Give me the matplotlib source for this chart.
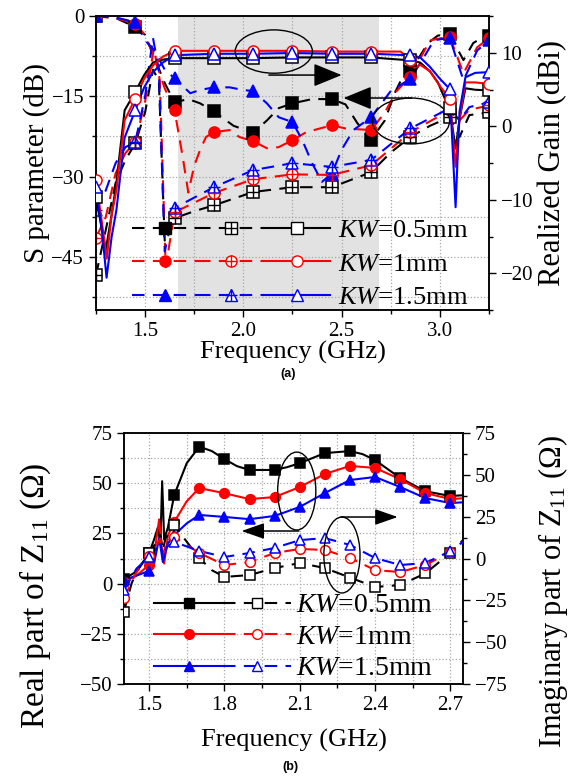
import numpy as np
import matplotlib
matplotlib.use("Agg")
import matplotlib.pyplot as plt
from matplotlib.lines import Line2D
from matplotlib.patches import Ellipse
from matplotlib.legend_handler import HandlerTuple
from matplotlib.ticker import MultipleLocator

plt.rcParams['font.family'] = ['Liberation Serif', 'DejaVu Serif']
plt.rcParams['mathtext.fontset'] = 'custom'
plt.rcParams['mathtext.rm'] = 'Liberation Serif'
plt.rcParams['mathtext.it'] = 'Liberation Serif:italic'

labels = [r'$KW$=0.5mm', r'$KW$=1mm', r'$KW$=1.5mm']
colors = ['black', 'red', 'blue']
markers = ['s', 'o', '^']

# ---------------- (a) S parameter / realized gain ----------------
f_mk = [1.25, 1.45, 1.65, 1.85, 2.05, 2.25, 2.45, 2.65, 2.85, 3.05, 3.25]

# S11 (dashed, filled markers, left axis)
s11_mk = [
    [0, -2.0, -16.1, -17.8, -21.8, -16.3, -15.5, -23.1, -10.3, -3.4, -3.6],
    [0, -1.4, -17.6, -21.7, -23.4, -23.2, -20.4, -21.3, -11.3, -3.8, -4.1],
    [0, -1.1, -11.6, -13.3, -14.0, -19.8, -29.5, -18.9, -11.7, -4.0, -4.5],
]
s11_fx = [
    [1.25, 1.35, 1.45, 1.5, 1.55, 1.6, 1.65, 1.72, 1.78, 1.85, 1.95, 2.05, 2.12, 2.18, 2.25,
     2.35, 2.45, 2.52, 2.58, 2.65, 2.72, 2.77, 2.81, 2.85, 2.94, 2.99, 3.05, 3.12, 3.17, 3.22, 3.25],
    [1.25, 1.35, 1.45, 1.5, 1.55, 1.6, 1.65, 1.69, 1.72, 1.75, 1.78, 1.81, 1.85, 1.93, 1.98, 2.05,
     2.12, 2.18, 2.25, 2.32, 2.45, 2.52, 2.65, 2.72, 2.78, 2.85, 2.95, 3.05, 3.12, 3.19, 3.25],
    [1.25, 1.35, 1.45, 1.5, 1.55, 1.6, 1.65, 1.73, 1.78, 1.85, 1.93, 2.0, 2.05, 2.12, 2.18, 2.25,
     2.3, 2.35, 2.4, 2.45, 2.5, 2.56, 2.65, 2.75, 2.85, 2.91, 2.97, 3.05, 3.12, 3.19, 3.25],
]
s11_fy = [
    [0, -0.3, -2.0, -3.5, -8, -12.5, -16.1, -15.5, -16.3, -17.8, -20.5, -21.8, -19.5, -17.2, -16.3,
     -15.5, -15.5, -16.5, -20, -23.1, -19.5, -14.4, -11.4, -10.3, -5, -3.6, -3.4, -8.2, -5, -3.9, -3.6],
    [0, -0.3, -1.4, -3.5, -8, -13.5, -17.6, -26, -33, -28, -25, -22.6, -21.7, -21.3, -22.6, -23.4,
     -24.7, -24.5, -23.2, -21.7, -20.4, -21, -21.3, -18, -14, -11.3, -4.5, -3.8, -10.7, -5.8, -4.1],
    [0, -0.2, -1.1, -4.5, -6.5, -10, -11.6, -14.4, -13.8, -13.3, -13.3, -13.8, -14.0, -16.3, -18.9, -19.8,
     -23.2, -27.5, -31, -29.5, -25, -21.3, -18.9, -14, -11.7, -8.2, -4.5, -4.0, -12, -6.4, -4.5],
]

# second S parameter (dashed, crossed markers, left axis)
sx_mk = [
    [-48.5, -23.8, -37.8, -35.4, -32.9, -32.0, -32.0, -29.2, -22.6, -18.9, -18.0],
    [-41.5, -23.6, -36.7, -33.1, -30.5, -29.6, -29.7, -27.9, -21.7, -17.6, -16.7],
    [-36.3, -23.6, -35.9, -32.0, -28.8, -27.5, -28.2, -26.9, -21.0, -17.2, -16.1],
]
sx_fx = [
    [1.25, 1.3, 1.35, 1.4, 1.45, 1.5, 1.54, 1.57, 1.6, 1.65, 1.75, 1.85, 2.05, 2.25, 2.45, 2.65,
     2.75, 2.85, 2.95, 3.05, 3.1, 3.15, 3.25],
    [1.25, 1.3, 1.35, 1.4, 1.45, 1.5, 1.545, 1.575, 1.605, 1.65, 1.85, 2.05, 2.25, 2.45, 2.65,
     2.85, 3.05, 3.1, 3.15, 3.25],
    [1.25, 1.3, 1.35, 1.4, 1.45, 1.5, 1.54, 1.57, 1.6, 1.65, 1.85, 2.05, 2.25, 2.45, 2.65,
     2.85, 3.05, 3.1, 3.15, 3.25],
]
sx_fy = [
    [-48.5, -40, -31.2, -26.9, -23.8, -18, -10, -12, -42, -37.8, -36.5, -35.4, -32.9, -32.0, -32.0, -29.2,
     -25.5, -22.6, -20.5, -18.9, -22.6, -18.5, -18.0],
    [-41.5, -37.6, -29.4, -25.6, -23.6, -16, -6, -12, -47, -36.7, -33.1, -30.5, -29.6, -29.7, -27.9,
     -21.7, -17.6, -19.5, -17.5, -16.7],
    [-36.3, -32.6, -27.5, -24.5, -23.6, -15, -4, -10, -44, -35.9, -32.0, -28.8, -27.5, -28.2, -26.9,
     -21.0, -17.2, -19.5, -17.0, -16.1],
]

# realized gain (solid, open markers, right axis)
g_mk = [
    [-9.6, 4.7, 9.3, 9.3, 9.3, 9.4, 9.4, 9.4, 9.0, 2.5, 4.9],
    [-7.3, 3.8, 10.3, 10.3, 10.3, 10.3, 10.2, 10.2, 9.0, 3.8, 5.8],
    [-8.3, 2.2, 9.7, 9.9, 9.9, 10.0, 9.9, 9.9, 9.7, 5.1, 7.4],
]
g_fx = [
    [1.25, 1.28, 1.3, 1.33, 1.354, 1.396, 1.45, 1.495, 1.54, 1.59, 1.65, 1.85, 2.05, 2.25, 2.45, 2.65,
     2.85, 2.9, 2.95, 2.99, 3.03, 3.05, 3.08, 3.1, 3.13, 3.18, 3.25],
    [1.25, 1.28, 1.305, 1.33, 1.354, 1.396, 1.45, 1.495, 1.54, 1.59, 1.65, 1.85, 2.05, 2.25, 2.45, 2.65,
     2.8, 2.85, 2.87, 2.9, 2.95, 3.0, 3.05, 3.08, 3.1, 3.13, 3.18, 3.25],
    [1.25, 1.28, 1.304, 1.33, 1.354, 1.396, 1.45, 1.495, 1.54, 1.59, 1.65, 1.85, 2.05, 2.25, 2.45, 2.65,
     2.85, 2.9, 2.95, 3.0, 3.05, 3.08, 3.1, 3.13, 3.18, 3.25],
]
g_fy = [
    [-9.6, -14, -16.8, -12, -7.7, 2.2, 4.7, 7.0, 8.7, 9.1, 9.3, 9.3, 9.3, 9.4, 9.4, 9.4,
     9.0, 8.7, 7.5, 6.0, 3.5, 2.5, -3, 1, 5.2, 5.0, 4.9],
    [-7.3, -13, -18, -12, -8.7, 0.85, 3.8, 6.5, 8.3, 9.5, 10.3, 10.3, 10.3, 10.3, 10.2, 10.2,
     10.2, 9.0, 8.0, 8.4, 7.5, 5.5, 3.8, -5.5, 1, 6, 6, 5.8],
    [-8.3, -14, -20.6, -15, -11.4, -1.5, 2.2, 5.3, 7.4, 8.7, 9.7, 9.9, 9.9, 10.0, 9.9, 9.9,
     9.7, 9.4, 8.1, 6.5, 5.1, -11, 2, 6.7, 7.3, 7.4],
]

# ---------------- (b) input impedance ----------------
f2_mk = [1.4, 1.5, 1.6, 1.7, 1.8, 1.9, 2.0, 2.1, 2.2, 2.3, 2.4, 2.5, 2.6, 2.7]
re_mk = [
    [2.3, 15.2, 44.1, 68.2, 62.0, 56.6, 56.6, 60.0, 65.0, 66.0, 61.5, 52.6, 46.0, 43.6],
    [1.0, 9.3, 30.7, 47.6, 45.0, 42.1, 43.1, 48.1, 54.6, 58.6, 57.6, 52.0, 45.1, 42.1],
    [1.8, 6.3, 24.2, 34.2, 33.2, 32.1, 33.7, 38.2, 45.1, 51.6, 53.1, 48.1, 42.6, 40.1],
]
im_mk = [
    [-31.8, 3.1, 20.0, 0.3, -11.0, -9.9, -5.7, -2.7, -5.7, -11.4, -17.0, -15.9, -8.9, 3.3],
    [-23.6, 1.5, 12.8, 3.3, -3.9, -2.1, 3.3, 5.7, 5.1, 0.3, -6.9, -8.1, -3.9, 3.9],
    [-18.8, 0.9, 9.9, 4.5, 0.9, 3.3, 6.3, 11.0, 12.2, 8.1, 0.3, -3.9, -2.7, 4.5],
]
re_fx = [
    [1.4, 1.45, 1.5, 1.52, 1.535, 1.545, 1.552, 1.56, 1.575, 1.6, 1.65, 1.7, 1.75, 1.8, 1.85, 1.9,
     2.0, 2.05, 2.1, 2.2, 2.3, 2.35, 2.4, 2.5, 2.6, 2.7, 2.75],
    [1.4, 1.45, 1.5, 1.52, 1.54, 1.55, 1.56, 1.575, 1.6, 1.65, 1.7, 1.8, 1.9, 2.0, 2.1, 2.2,
     2.3, 2.4, 2.5, 2.6, 2.7, 2.75],
    [1.4, 1.45, 1.5, 1.52, 1.54, 1.555, 1.575, 1.6, 1.65, 1.7, 1.8, 1.9, 2.0, 2.1, 2.2,
     2.3, 2.4, 2.5, 2.6, 2.7, 2.75],
]
re_fy = [
    [2.3, 6, 15.2, 22, 28, 20, 51, 22, 28, 44.1, 60, 68.2, 66, 62.0, 58.5, 56.6,
     56.6, 58, 60.0, 65.0, 66.0, 64.5, 61.5, 52.6, 46.0, 43.6, 44],
    [1.0, 4, 9.3, 14, 32, 18, 10, 24, 30.7, 41, 47.6, 45.0, 42.1, 43.1, 48.1, 54.6,
     58.6, 57.6, 52.0, 45.1, 42.1, 42.5],
    [1.8, 4, 6.3, 10, 22.7, 10.7, 20, 24.2, 30, 34.2, 33.2, 32.1, 33.7, 38.2, 45.1,
     51.6, 53.1, 48.1, 42.6, 40.1, 40.5],
]
im_fx = [
    [1.4, 1.43, 1.45, 1.5, 1.53, 1.545, 1.555, 1.565, 1.6, 1.65, 1.7, 1.75, 1.8, 1.9, 2.0, 2.1,
     2.2, 2.3, 2.4, 2.5, 2.6, 2.7, 2.75],
    [1.4, 1.45, 1.5, 1.53, 1.545, 1.555, 1.57, 1.6, 1.7, 1.8, 1.9, 2.0, 2.1, 2.2, 2.3, 2.4,
     2.5, 2.6, 2.7, 2.75],
    [1.4, 1.45, 1.5, 1.53, 1.545, 1.555, 1.57, 1.6, 1.7, 1.8, 1.9, 2.0, 2.1, 2.2, 2.3, 2.4,
     2.5, 2.6, 2.7, 2.75],
]
im_fy = [
    [-31.8, -15, -8, 3.1, 10, 14, 5, 12, 20.0, 10, 0.3, -7, -11.0, -9.9, -5.7, -2.7,
     -5.7, -11.4, -17.0, -15.9, -8.9, 3.3, 11],
    [-23.6, -8, 1.5, 8, 12, 2, 10, 12.8, 3.3, -3.9, -2.1, 3.3, 5.7, 5.1, 0.3, -6.9,
     -8.1, -3.9, 3.9, 10],
    [-18.8, -6, 0.9, 6, 10, 1, 7, 9.9, 4.5, 0.9, 3.3, 6.3, 11.0, 12.2, 8.1, 0.3,
     -3.9, -2.7, 4.5, 10],
]

DASH = (0, (6, 4))


def draw(ax, xl, yl, xm, ym, c, ls, m, fill, cross=False, ms=8, z=3):
    ax.plot(xl, yl, color=c, ls=ls, lw=1.5, zorder=z)
    ax.plot(xm, ym, ls='none', marker=m, ms=ms, mfc=c if fill else 'white',
            mec=c, mew=1.1, zorder=z + 0.1)
    if cross:
        ax.plot(xm, ym, ls='none', marker='+', ms=ms, color=c, mew=1.0, zorder=z + 0.2)


def style(ax):
    ax.tick_params(which='both', direction='out', colors='black')
    ax.tick_params(which='major', length=5, width=1)
    ax.tick_params(which='minor', length=3, width=1)
    for s in ax.spines.values():
        s.set_linewidth(1.1)


fig = plt.figure(figsize=(5.78, 7.77), dpi=100)

# ---- panel (a)
ax = fig.add_axes([0.166, 0.601, 0.680, 0.378])
ax2 = ax.twinx()
ax.axvspan(1.67, 2.69, color='#e2e2e2', zorder=0.5, lw=0)
for i in range(3):
    draw(ax, s11_fx[i], s11_fy[i], f_mk, s11_mk[i], colors[i], DASH, markers[i], True)
    draw(ax, sx_fx[i], sx_fy[i], f_mk, sx_mk[i], colors[i], DASH, markers[i], False, cross=True)
    draw(ax2, g_fx[i], g_fy[i], f_mk, g_mk[i], colors[i], '-', markers[i], False)

ax.set_xlim(1.25, 3.25)
ax.set_ylim(-55, 0)
ax2.set_ylim(-25, 15)
ax.xaxis.set_major_locator(MultipleLocator(0.5))
ax.xaxis.set_minor_locator(MultipleLocator(0.25))
ax.yaxis.set_major_locator(MultipleLocator(15))
ax.yaxis.set_minor_locator(MultipleLocator(7.5))
ax2.yaxis.set_major_locator(MultipleLocator(10))
ax2.yaxis.set_minor_locator(MultipleLocator(5))
ax.xaxis.set_major_formatter(plt.FuncFormatter(lambda v, p: f'{v:.1f}'))
ax.grid(which='both', ls=':', color='#a8a8a8', lw=0.9)
style(ax)
style(ax2)
ax.tick_params(labelsize=15)
ax2.tick_params(labelsize=15)
ax.set_xlabel('Frequency (GHz)', fontsize=19)
ax.set_ylabel('S parameter (dB)', fontsize=21)
ax2.set_ylabel('Realized Gain (dBi)', fontsize=22)
ax.xaxis.set_label_coords(0.5, -0.105)
ax.yaxis.set_label_coords(-0.118, 0.5)
ax2.yaxis.set_label_coords(1.125, 0.5)

ax2.add_patch(Ellipse((2.155, 10.2), 0.393, 5.9, fill=False, ec='black', lw=1, zorder=6))
ax2.annotate('', xy=(2.50, 7.0), xytext=(2.13, 7.0),
             arrowprops=dict(arrowstyle='-|>,head_length=1.1,head_width=0.45',
                             color='black', lw=1.1, mutation_scale=16, shrinkA=0, shrinkB=0))
ax.add_patch(Ellipse((2.853, -19.6), 0.393, 8.6, fill=False, ec='black', lw=1, zorder=6))
ax.annotate('', xy=(2.51, -15.3), xytext=(2.856, -15.3),
            arrowprops=dict(arrowstyle='-|>,head_length=1.1,head_width=0.45',
                            color='black', lw=1.1, mutation_scale=16, shrinkA=0, shrinkB=0))

handles, hmap = [], {}
for c, m in zip(colors, markers):
    h1 = Line2D([], [], color=c, ls=DASH, lw=1.5, marker=m, ms=8, mfc=c, mec=c)
    h2a = Line2D([], [], color=c, ls=DASH, lw=1.5, marker=m, ms=8, mfc='white', mec=c)
    h2b = Line2D([], [], ls='none', marker='+', ms=8, color=c)
    h3 = Line2D([], [], color=c, ls='-', lw=1.5, marker=m, ms=8, mfc='white', mec=c)
    h = (h1, (h2a, h2b), h3)
    handles.append(h)
    hmap[h] = HandlerTuple(ndivide=None, pad=0)
leg = ax2.legend(handles, labels, handler_map=hmap, loc='lower left',
                 bbox_to_anchor=(0.092, 0.003), frameon=False, fontsize=19,
                 handlelength=7.5, handletextpad=0.3, labelspacing=0.38,
                 borderpad=0, borderaxespad=0)
leg.set_zorder(10)

fig.text(0.498, 0.519, '(a)', family='Liberation Sans', weight='bold', fontsize=9,
         ha='center', va='center')

# ---- panel (b)
bx = fig.add_axes([0.2145, 0.1197, 0.5865, 0.323])
bx2 = bx.twinx()
for i in range(3):
    draw(bx, re_fx[i], re_fy[i], f2_mk, re_mk[i], colors[i], '-', markers[i], True, ms=7)
    draw(bx2, im_fx[i], im_fy[i], f2_mk, im_mk[i], colors[i], DASH, markers[i], False, ms=7)

bx.set_xlim(1.4, 2.75)
bx.set_ylim(-50, 75)
bx2.set_ylim(-75, 75)
bx.xaxis.set_major_locator(MultipleLocator(0.3))
bx.xaxis.set_minor_locator(MultipleLocator(0.15))
bx.yaxis.set_major_locator(MultipleLocator(25))
bx.yaxis.set_minor_locator(MultipleLocator(12.5))
bx2.yaxis.set_major_locator(MultipleLocator(25))
bx2.yaxis.set_minor_locator(MultipleLocator(12.5))
bx.xaxis.set_major_formatter(plt.FuncFormatter(lambda v, p: f'{v:.1f}'))
bx.grid(which='both', ls=':', color='#a8a8a8', lw=0.9)
style(bx)
style(bx2)
bx.tick_params(labelsize=15)
bx2.tick_params(labelsize=15)
bx.set_xlabel('Frequency (GHz)', fontsize=19)
bx.set_ylabel(r'Real part of $\mathregular{Z_{11}}$ (Ω)', fontsize=24)
bx2.set_ylabel(r'Imaginary part of $\mathregular{Z_{11}}$ (Ω)', fontsize=22)
bx.xaxis.set_label_coords(0.5, -0.18)
bx.yaxis.set_label_coords(-0.21, 0.35)
bx2.yaxis.set_label_coords(1.215, 0.37)

bx.add_patch(Ellipse((2.088, 46.1), 0.152, 38.8, fill=False, ec='black', lw=1, zorder=6))
bx.annotate('', xy=(1.868, 26.2), xytext=(2.096, 26.2),
            arrowprops=dict(arrowstyle='-|>,head_length=1.0,head_width=0.35',
                            color='black', lw=1.1, mutation_scale=14, shrinkA=0, shrinkB=0))
bx2.add_patch(Ellipse((2.268, 2.1), 0.144, 45.4, fill=False, ec='black', lw=1, zorder=6))
bx2.annotate('', xy=(2.49, 24.8), xytext=(2.264, 24.8),
             arrowprops=dict(arrowstyle='-|>,head_length=1.0,head_width=0.35',
                             color='black', lw=1.1, mutation_scale=14, shrinkA=0, shrinkB=0))

handles_b, hmap_b = [], {}
for c, m in zip(colors, markers):
    h1 = Line2D([], [], color=c, ls='-', lw=1.5, marker=m, ms=7, mfc=c, mec=c)
    h2 = Line2D([], [], color=c, ls=DASH, lw=1.5, marker=m, ms=7, mfc='white', mec=c)
    h = (h1, h2)
    handles_b.append(h)
    hmap_b[h] = HandlerTuple(ndivide=None, pad=0)
leg_b = bx2.legend(handles_b, labels, handler_map=hmap_b, loc='lower left',
                   bbox_to_anchor=(0.09, 0.01), frameon=False, fontsize=20,
                   handlelength=4.9, handletextpad=0.2, labelspacing=0.22,
                   borderpad=0, borderaxespad=0)
leg_b.set_zorder(10)

fig.text(0.502, 0.013, '(b)', family='Liberation Sans', weight='bold', fontsize=9,
         ha='center', va='center')

fig.savefig('out.png', dpi=100)
